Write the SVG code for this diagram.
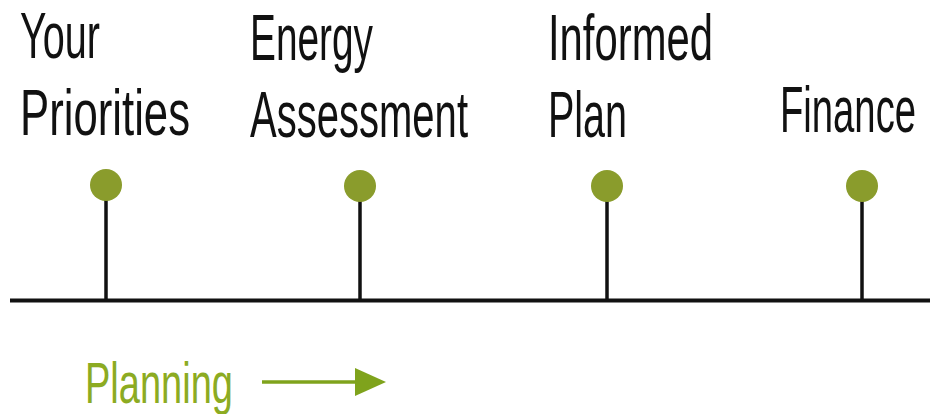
<svg xmlns="http://www.w3.org/2000/svg" width="930" height="414" viewBox="0 0 930 414">
<style>
.lbl{font-family:"Liberation Sans","DejaVu Sans",sans-serif;font-size:64px;fill:#111}
.dot{fill:#8a9c2c}
.stem{stroke:#111;stroke-width:3.5}
.plan{font-family:"Liberation Sans","DejaVu Sans",sans-serif;font-size:58px;fill:#8cab22}
</style>
<g id="connectors">
<line x1="10" y1="300.5" x2="930" y2="300.5" stroke="#111" stroke-width="4"/>
<line class="stem" x1="106" y1="185" x2="106" y2="300"/>
<line class="stem" x1="360" y1="186" x2="360" y2="300"/>
<line class="stem" x1="607" y1="186" x2="607" y2="300"/>
<line class="stem" x1="862" y1="186" x2="862" y2="300"/>
</g>
<g id="node-priorities">
<text class="lbl" x="20" y="58" textLength="80" lengthAdjust="spacingAndGlyphs">Your</text>
<text class="lbl" x="20" y="135" textLength="170" lengthAdjust="spacingAndGlyphs">Priorities</text>
<circle class="dot" cx="106" cy="185" r="16"/>
</g>
<g id="node-assessment">
<text class="lbl" x="250" y="60" textLength="123" lengthAdjust="spacingAndGlyphs">Energy</text>
<text class="lbl" x="250" y="137" textLength="218" lengthAdjust="spacingAndGlyphs">Assessment</text>
<circle class="dot" cx="360" cy="186" r="16"/>
</g>
<g id="node-plan">
<text class="lbl" x="548" y="60" textLength="165" lengthAdjust="spacingAndGlyphs">Informed</text>
<text class="lbl" x="548" y="137" textLength="79" lengthAdjust="spacingAndGlyphs">Plan</text>
<circle class="dot" cx="607" cy="186" r="16"/>
</g>
<g id="node-finance">
<text class="lbl" x="780" y="132" textLength="136" lengthAdjust="spacingAndGlyphs">Finance</text>
<circle class="dot" cx="862" cy="186" r="16"/>
</g>
<g id="node-planning">
<text class="plan" x="85" y="403" textLength="148" lengthAdjust="spacingAndGlyphs">Planning</text>
<path d="M262,382 L358,382" stroke="#7fa31c" stroke-width="3.5"/>
<path d="M355,368 L386,382 L355,396 Z" fill="#7fa31c"/>
</g>
</svg>
